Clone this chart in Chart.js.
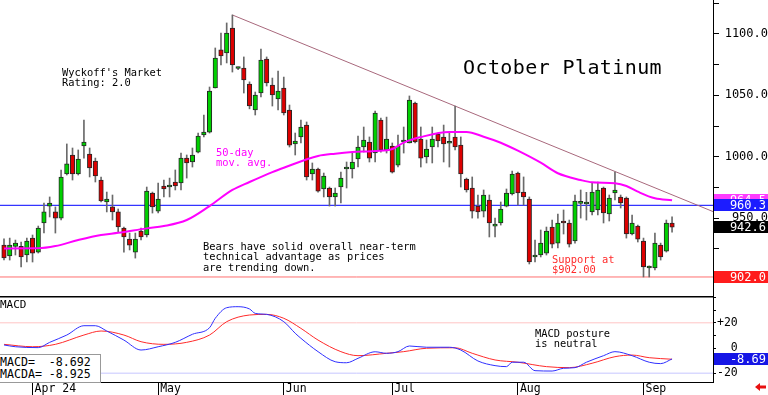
<!DOCTYPE html>
<html>
<head>
<meta charset="utf-8">
<script src="https://cdn.jsdelivr.net/npm/chart.js@4.4.1/dist/chart.umd.min.js"></script>
<style>
    html, body { margin: 0; padding: 0; background: #fff; }
    #wrap { position: relative; width: 768px; height: 395px; overflow: hidden; font-family: 'DejaVu Sans Mono', monospace; }
    #price-box { position: absolute; left: 0; top: 0; width: 768px; height: 296px; }
    #macd-box { position: absolute; left: 0; top: 296px; width: 768px; height: 99px; }
    .note { position: absolute; white-space: pre; font-size: 10.4px; line-height: 10.5px; color: #000; }
    #legend { position: absolute; left: -1px; top: 354px; width: 100px; height: 26px; border: 1px solid #999; background: #fff;
              white-space: pre; font-size: 11.6px; line-height: 12px; padding-top: 1px; box-sizing: content-box; }
</style>
</head>
<body>
<div id="wrap">
    <div id="price-box"><canvas id="price"></canvas></div>
    <div id="macd-box"><canvas id="macd"></canvas></div>

    <div class="note" style="left:463px; top:56.5px; font-size:20px; line-height:20px; letter-spacing:0.4px">October Platinum</div>
    <div class="note" style="left:62px; top:66.5px">Wyckoff's Market
Rating: 2.0</div>
    <div class="note" style="left:216px; top:146.5px; color:#ff00ff">50-day
mov. avg.</div>
    <div class="note" style="left:203px; top:240.5px">Bears have solid overall near-term
technical advantage as prices
are trending down.</div>
    <div class="note" style="left:552px; top:253.5px; color:#ff2a2a">Support at
$902.00</div>
    <div class="note" style="left:535px; top:327.5px">MACD posture
is neutral</div>
    <div class="note" style="left:0px; top:298.5px; font-size:11px; line-height:11px">MACD</div>
    <div id="legend">MACD=  -8.692
MACDA= -8.925</div>
</div>

<script>
// Daily bars, 22 Mar 2024 .. 10 Sep 2024 (index 0..117)
const opens  = [928.0, 919.1, 926.9, 926.9, 919.9, 933.7, 922.3, 946.0, 959.8, 955.0,
                950.0, 985.9, 1001.4, 985.9, 1008.7, 1002.2, 996.5, 981.0, 963.1, 959.1,
                955.0, 941.9, 932.9, 922.3, 939.4, 936.2, 970.4, 955.7, 976.1, 975.3,
                979.4, 978.6, 998.9, 995.7, 1003.8, 1017.7, 1020.1, 1056.0, 1087.0, 1084.5,
                1104.9, 1071.9, 1072.3, 1059.2, 1038.1, 1051.9, 1079.6, 1058.4, 1047.0, 1056.0,
                1038.1, 1010.4, 1016.1, 1025.8, 985.9, 990.0, 973.7, 974.5, 967.2, 975.3,
                990.0, 990.0, 998.1, 1007.9, 1012.0, 1003.0, 1029.9, 1005.5, 1008.7, 993.2,
                1012.0, 1011.2, 1043.8, 1014.4, 999.8, 1007.9, 1018.5, 1016.1, 1011.0, 1016.1,
                1009.5, 981.8, 974.5, 959.8, 955.7, 964.7, 943.5, 946.0, 959.8, 969.6,
                986.7, 971.2, 965.5, 918.3, 919.9, 921.5, 942.7, 929.6, 947.6, 946.0,
                931.3, 962.0, 961.5, 955.0, 956.6, 974.5, 953.3, 970.4, 967.2, 966.3,
                937.0, 943.5, 931.3, 909.3, 909.3, 928.0, 923.1, 946.0];
const highs  = [933.0, 933.7, 932.1, 930.4, 933.7, 936.2, 943.5, 962.3, 967.2, 959.1,
                989.2, 1010.4, 1007.1, 1005.5, 1029.9, 1007.1, 998.9, 983.5, 971.2, 968.8,
                957.4, 942.7, 937.8, 937.8, 941.9, 975.3, 971.2, 978.6, 981.0, 982.6,
                989.2, 1003.0, 1001.4, 1007.1, 1019.3, 1034.0, 1056.8, 1088.6, 1100.8, 1109.0,
                1115.5, 1073.0, 1081.3, 1061.0, 1052.7, 1087.8, 1081.3, 1064.1, 1069.8, 1064.9,
                1042.1, 1019.3, 1029.9, 1028.3, 994.9, 990.8, 986.7, 975.3, 974.5, 987.5,
                995.7, 1003.0, 1016.9, 1024.2, 1016.1, 1037.2, 1031.5, 1032.3, 1011.2, 1017.7,
                1024.2, 1049.5, 1044.6, 1024.2, 1013.6, 1024.2, 1019.3, 1025.8, 1019.3, 1041.3,
                1016.1, 982.6, 983.5, 968.8, 972.9, 968.8, 950.0, 963.1, 973.7, 988.3,
                987.5, 983.5, 967.2, 932.1, 940.3, 942.7, 948.4, 953.3, 956.6, 948.4,
                968.8, 972.9, 971.0, 978.6, 979.4, 975.3, 968.8, 987.5, 968.8, 967.2,
                952.5, 944.3, 933.7, 911.0, 937.8, 929.6, 948.4, 951.0];
const lows   = [916.0, 915.8, 919.9, 910.1, 914.2, 914.2, 921.5, 937.8, 950.9, 937.8,
                948.4, 985.1, 981.0, 985.1, 998.9, 983.5, 979.4, 963.1, 955.0, 948.4,
                938.6, 922.3, 924.0, 917.4, 932.1, 934.6, 954.1, 954.1, 967.2, 967.2,
                972.9, 972.9, 982.6, 991.6, 1003.0, 1016.1, 1019.3, 1056.0, 1074.7, 1076.4,
                1069.0, 1071.0, 1051.9, 1039.0, 1034.0, 1048.7, 1057.6, 1041.3, 1038.1, 1034.0,
                1007.9, 1001.4, 1011.2, 981.0, 981.0, 971.2, 967.2, 959.8, 959.8, 962.3,
                974.5, 982.6, 991.6, 1003.8, 995.7, 995.7, 1003.8, 1003.0, 986.7, 991.6,
                1003.0, 1011.2, 1011.2, 991.6, 994.9, 994.9, 1007.9, 995.7, 991.6, 1005.5,
                975.3, 971.2, 950.0, 950.0, 950.9, 934.6, 934.6, 944.3, 959.1, 968.8,
                960.6, 960.6, 912.6, 914.2, 918.3, 919.9, 925.6, 925.6, 937.0, 926.4,
                929.6, 950.0, 948.4, 952.5, 952.5, 946.0, 947.6, 964.7, 958.2, 933.7,
                936.2, 930.5, 902.0, 902.0, 907.7, 915.8, 922.3, 938.6];
const closes = [917.5, 928.0, 929.6, 918.3, 931.3, 921.5, 941.9, 955.0, 962.3, 950.0,
                983.5, 994.1, 985.9, 998.1, 1012.0, 990.8, 984.3, 963.9, 965.5, 955.0,
                942.7, 934.6, 928.0, 932.9, 934.6, 972.0, 959.1, 965.5, 973.7, 976.1,
                976.1, 998.9, 994.9, 1001.4, 1016.9, 1020.1, 1053.5, 1080.4, 1082.1, 1100.8,
                1074.7, 1072.3, 1062.5, 1041.3, 1050.3, 1078.8, 1060.1, 1050.3, 1053.5, 1035.6,
                1009.5, 1012.8, 1024.2, 983.5, 990.0, 972.0, 984.3, 967.2, 970.4, 982.6,
                990.4, 995.7, 1007.9, 1013.6, 998.9, 1035.6, 1005.5, 1014.4, 987.5, 1008.7,
                1012.3, 1046.2, 1012.0, 998.9, 1006.3, 1014.4, 1012.8, 1010.4, 1011.3, 1007.9,
                985.9, 972.9, 955.7, 955.0, 968.8, 946.0, 943.8, 957.4, 970.4, 985.9,
                970.4, 967.2, 914.2, 919.9, 929.6, 939.4, 928.8, 946.0, 946.0, 928.8,
                963.9, 962.3, 962.3, 971.2, 972.9, 954.1, 966.3, 972.9, 962.3, 937.0,
                946.0, 932.9, 910.1, 910.1, 929.6, 918.3, 946.0, 942.6];

// 50-day moving average, read at selected bars
const maIdx = [0, 6, 9, 13, 17, 20, 25, 28, 32, 36, 40, 43, 47, 49, 55, 58, 61, 65, 68, 70,
               73, 78, 81, 84, 87, 90, 94, 97, 101, 103, 107, 109, 111, 114, 117];
const maVal = [925.3, 925.4, 927.2, 932.1, 936.2, 938.0, 941.6, 943.5, 948.4, 959.8,
               972.9, 979.4, 987.5, 991.0, 1000.6, 1002.5, 1003.8, 1004.6, 1006.3, 1011.5,
               1016.0, 1020.1, 1020.1, 1016.3, 1011.4, 1004.9, 995.1, 986.5, 981.0, 979.1,
               978.3, 976.1, 971.5, 966.1, 964.5];

// downtrend line through the May high and the July high
const trendIdx = [40, 124.17];
const trendVal = [1115.5, 955.3];

const blueLevel = 960.3;
const supportLevel = 902.0;
const priceTicks = [900, 925, 950, 975, 1000, 1025, 1050, 1075, 1100, 1125];

// MACD (blue) and its average (red)
const macdIdx = [0, 2, 6, 8, 11, 14, 16, 18, 21, 24, 27, 30, 33, 36, 37, 39, 41, 43, 44, 46,
                 49, 51, 52, 55, 58, 60, 62, 65, 67, 69, 71, 74, 78, 80, 83, 86, 88, 89, 91, 93,
                 96, 98, 100, 102, 105, 107, 110, 113, 115, 117];
const macdVal = [2.4, 1.0, 0.3, 4.5, 10.3, 17.7, 17.7, 13.5, 6.3, -1.6, 1.0, 4.5, 10.9, 16.1, 23.6, 32.0, 32.8, 31.0, 27.5, 26.7,
                 20.9, 11.7, 7.7, -2.9, -10.9, -11.7, -8.2, -3.0, -4.2, -2.9, 1.6, 0.6, 0.6, -1.6, -10.3, -14.0, -14.8, -11.3, -11.3, -18.0,
                 -18.3, -16.1, -15.6, -11.3, -6.1, -2.9, -6.1, -11.3, -12.4, -8.692];
const sigIdx = [0, 5, 9, 14, 17, 21, 24, 28, 32, 36, 39, 43, 46, 49, 52, 55, 59, 62, 67, 70,
                74, 79, 82, 86, 90, 95, 99, 103, 107, 110, 113, 117];
const sigVal = [2.9, 1.0, 2.9, 10.3, 13.5, 10.3, 5.0, 2.9, 4.5, 10.3, 20.9, 26.2, 26.7, 23.6, 15.6, 6.3, -2.9, -6.1, -4.2, -2.9,
                -0.2, 0.2, -4.2, -9.5, -11.3, -14.8, -15.6, -12.1, -6.9, -5.6, -7.7, -8.925];
const macdLevels = [20, -20];
const macdTicks = [-20, -10, 0, 10, 20, 30, 40];

const monthIdx = [5, 27, 49, 68, 90, 112];
const monthLabels = ['Apr 24', 'May', 'Jun', 'Jul', 'Aug', 'Sep'];

// ---- layout constants (bar 0 sits at x=4, 5.71px per bar, plot ends at x=713)
const X_MIN = -0.7;
const X_MAX = 124.17;

Chart.defaults.font.family = "'DejaVu Sans Mono', monospace";
Chart.defaults.color = '#000';

const days = opens.map((_, i) => i);
const pts = (xs, ys) => xs.map((x, k) => ({ x, y: ys[k] }));

// coloured value tags on the right axis
const tagPlugin = {
    id: 'tags',
    afterDraw(chart, args, opts) {
        const ctx = chart.ctx;
        const ys = chart.scales.y;
        ctx.save();
        ctx.font = "12px 'DejaVu Sans Mono'";
        ctx.textAlign = 'right';
        ctx.textBaseline = 'middle';
        opts.values.forEach((v, k) => {
            const y = Math.round(ys.getPixelForValue(v));
            ctx.fillStyle = opts.fills[k];
            ctx.fillRect(ys.left + 1, y - 6, chart.width - ys.left - 1, 12);
            ctx.fillStyle = '#fff';
            ctx.fillText(v.toFixed(opts.digits), chart.width - 2, y + 1);
        });
        ctx.restore();
    }
};

const flatAxis = s => { s.paddingTop = 0; s.paddingBottom = 0; s.paddingLeft = 0; s.paddingRight = 0; };

new Chart(document.getElementById('price'), {
    type: 'bar',
    data: {
        datasets: [
            { type: 'line', data: pts(maIdx, maVal), borderColor: '#ff00ff', borderWidth: 2, pointRadius: 0,
              cubicInterpolationMode: 'monotone', order: 0 },
            { type: 'line', data: pts(trendIdx, trendVal), borderColor: '#a8687c', borderWidth: 1, pointRadius: 0, order: 3 },
            { type: 'line', data: pts([X_MIN, X_MAX], [blueLevel, blueLevel]), borderColor: '#3434ff', borderWidth: 1.2, pointRadius: 0, order: 4 },
            { type: 'line', data: pts([X_MIN, X_MAX], [supportLevel, supportLevel]), borderColor: '#ff7070', borderWidth: 1, pointRadius: 0, order: 4 },
            { data: days.map(i => ({ x: i, y: [lows[i], highs[i]] })), backgroundColor: '#6a6a6a',
              barThickness: 1, grouped: false, order: 2 },
            { data: days.map(i => ({ x: i, y: [opens[i], closes[i]] })),
              backgroundColor: days.map(i => closes[i] >= opens[i] ? '#00d000' : '#dd0000'),
              borderColor: '#262626', borderWidth: 1, borderSkipped: false, barThickness: 4.5, minBarLength: 2,
              grouped: false, order: 1 }
        ]
    },
    options: {
        responsive: true,
        maintainAspectRatio: false,
        animation: false,
        events: [],
        layout: { padding: 0 },
        plugins: {
            legend: { display: false },
            tooltip: { enabled: false },
            tags: {
                values: [maVal[maVal.length - 1], blueLevel, closes[closes.length - 1], supportLevel],
                fills: ['#ff3cff', '#1c1cff', '#000000', '#ff1c1c'],
                digits: 1
            }
        },
        scales: {
            x: { type: 'linear', min: X_MIN, max: X_MAX, offset: false, display: false, grid: { offset: false } },
            y: {
                type: 'linear', position: 'right', min: 886.5, max: 1127.7,
                afterBuildTicks: s => { s.ticks = priceTicks.map(v => ({ value: v })); },
                afterFit: s => { s.width = 55; flatAxis(s); },
                ticks: { autoSkip: false, crossAlign: 'far', padding: 5, color: '#000', font: { size: 12 },
                         callback: v => (v % 50 === 0 && v > 900) ? v.toFixed(1) : '' },
                grid: { drawOnChartArea: false, tickLength: 6, color: '#000' },
                border: { display: true, color: '#000' }
            }
        }
    },
    plugins: [tagPlugin]
});

// frame line on top of the MACD pane and the small red arrow
const macdFrame = {
    id: 'macdFrame',
    afterDraw(chart) {
        const ctx = chart.ctx;
        const a = chart.chartArea;
        ctx.save();
        ctx.strokeStyle = '#000';
        ctx.lineWidth = 1.5;
        ctx.beginPath();
        ctx.moveTo(0, a.top + 0.75);
        ctx.lineTo(a.right, a.top + 0.75);
        ctx.stroke();
        ctx.fillStyle = '#e81010';
        ctx.beginPath();
        ctx.moveTo(755, 91);
        ctx.lineTo(760, 87);
        ctx.lineTo(760, 89.5);
        ctx.lineTo(766, 89.5);
        ctx.lineTo(766, 92.5);
        ctx.lineTo(760, 92.5);
        ctx.lineTo(760, 95);
        ctx.closePath();
        ctx.fill();
        ctx.restore();
    }
};

new Chart(document.getElementById('macd'), {
    type: 'line',
    data: {
        datasets: [
            { data: pts(macdIdx, macdVal), borderColor: '#2f2fff', borderWidth: 1, pointRadius: 0, cubicInterpolationMode: 'monotone' },
            { data: pts(sigIdx, sigVal), borderColor: '#ff2a2a', borderWidth: 1, pointRadius: 0, cubicInterpolationMode: 'monotone' },
            { data: pts([X_MIN, X_MAX], [macdLevels[0], macdLevels[0]]), borderColor: '#ffc4c4', borderWidth: 1, pointRadius: 0 },
            { data: pts([X_MIN, X_MAX], [macdLevels[1], macdLevels[1]]), borderColor: '#c6c6ff', borderWidth: 1, pointRadius: 0 }
        ]
    },
    options: {
        responsive: true,
        maintainAspectRatio: false,
        animation: false,
        events: [],
        layout: { padding: 0 },
        plugins: {
            legend: { display: false },
            tooltip: { enabled: false },
            tags: { values: [macdVal[macdVal.length - 1]], fills: ['#1616e6'], digits: 2 }
        },
        scales: {
            x: {
                type: 'linear', min: X_MIN, max: X_MAX, offset: false,
                afterBuildTicks: s => { s.ticks = monthIdx.map(v => ({ value: v })); },
                afterFit: s => { s.height = 13; flatAxis(s); },
                ticks: { autoSkip: false, align: 'start', labelOffset: 2, padding: -13, maxRotation: 0, color: '#000',
                         font: { size: 11.5 }, callback: v => monthLabels[monthIdx.indexOf(v)] },
                grid: { drawOnChartArea: false, tickLength: 13, color: '#000', offset: false },
                border: { display: true, color: '#000' }
            },
            y: {
                type: 'linear', position: 'right', min: -27, max: 41.3,
                afterBuildTicks: s => { s.ticks = macdTicks.map(v => ({ value: v })); },
                afterFit: s => { s.width = 55; flatAxis(s); },
                ticks: { autoSkip: false, crossAlign: 'near', padding: 1, color: '#000', font: { size: 11.5 },
                         callback: v => v === 20 ? '+20' : v === 0 ? '  0' : v === -20 ? '-20' : '' },
                grid: { drawOnChartArea: false, tickLength: 3, color: '#000' },
                border: { display: true, color: '#000' }
            }
        }
    },
    plugins: [tagPlugin, macdFrame]
});
</script>
</body>
</html>
